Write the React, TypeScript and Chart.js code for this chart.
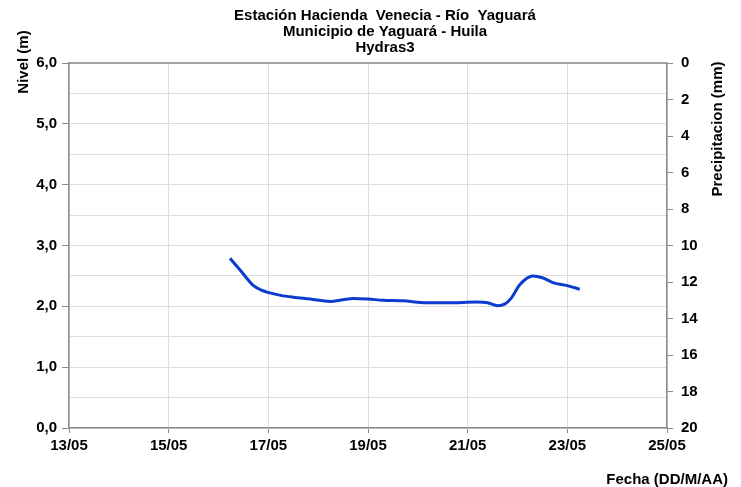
import React, { useEffect, useRef } from "react";
import { Chart, registerables } from "chart.js";

Chart.register(...registerables);

const titleLines = ["Estación Hacienda  Venecia - Río  Yaguará", "Municipio de Yaguará - Huila", "Hydras3"];
const leftTitle = "Nivel (m)";
const rightTitle = "Precipitacion (mm)";
const bottomTitle = "Fecha (DD/M/AA)";

// x = day of May (fractional)
const days = [16.23, 16.45, 16.69, 16.85, 16.99, 17.25, 17.5, 17.84, 18.24, 18.5, 18.7, 19.0, 19.3, 19.7, 20.18, 20.6, 21.19, 21.4, 21.6, 21.75, 21.87, 22.05, 22.31, 22.5, 22.71, 23.0, 23.25];
const nivel = [2.79, 2.58, 2.35, 2.27, 2.23, 2.18, 2.15, 2.12, 2.08, 2.11, 2.13, 2.12, 2.10, 2.09, 2.06, 2.06, 2.07, 2.06, 2.01, 2.04, 2.13, 2.36, 2.50, 2.47, 2.39, 2.34, 2.28];

const xMin = 13, xMax = 25, xStep = 2;
const yMin = 0, yMax = 6, yStep = 0.5;
const y2Min = 0, y2Max = 20, y2Step = 2;

const FONT = "'Liberation Sans', Arial, sans-serif";

export default function App() {
  const ref = useRef<HTMLCanvasElement>(null);
  useEffect(() => {
    const textPlugin = {
      id: "texts",
      afterDraw(chart: any) {
        const ctx = chart.ctx;
        ctx.save();
        ctx.fillStyle = "#000";
        ctx.font = `bold 15px ${FONT}`;
        ctx.textAlign = "center";
        ctx.textBaseline = "middle";
        titleLines.forEach((t, i) => ctx.fillText(t, 385, 16 + i * 16));
        ctx.save();
        ctx.translate(24, 62);
        ctx.rotate(-Math.PI / 2);
        ctx.fillText(leftTitle, 0, 0);
        ctx.restore();
        ctx.save();
        ctx.translate(718, 129);
        ctx.rotate(-Math.PI / 2);
        ctx.fillText(rightTitle, 0, 0);
        ctx.restore();
        ctx.textAlign = "right";
        ctx.fillText(bottomTitle, 728, 480);
        // top border
        const a = chart.chartArea;
        ctx.strokeStyle = "#8c8c8c";
        ctx.lineWidth = 1.5;
        ctx.beginPath();
        ctx.moveTo(a.left, a.top);
        ctx.lineTo(a.right, a.top);
        ctx.stroke();
        ctx.restore();
      },
    };
    const chart = new Chart(ref.current!, {
      type: "line",
      data: {
        datasets: [
          {
            data: days.map((d, i) => ({ x: d, y: nivel[i] })),
            borderColor: "#0c3bd0",
            borderWidth: 3,
            pointRadius: 0,
            tension: 0.4,
            cubicInterpolationMode: "monotone",
            yAxisID: "y",
          },
        ],
      },
      options: {
        animation: false,
        responsive: false,
        layout: { padding: { top: 63, left: 0, right: 0, bottom: 0 } },
        plugins: { legend: { display: false }, title: { display: false }, tooltip: { enabled: false } },
        scales: {
          x: {
            type: "linear",
            min: xMin,
            max: xMax,
            afterFit(s: any) { s.height = 59; },
            ticks: {
              stepSize: xStep,
              color: "#000",
              font: { family: FONT, size: 15, weight: "bold" },
              padding: 4,
              maxRotation: 0,
              callback: (v: any) => String(v).padStart(2, "0") + "/05",
            },
            grid: { color: "#dcdcdc", lineWidth: 1, tickLength: 5, tickColor: "#8c8c8c" },
            border: { color: "#8c8c8c", width: 1.5 },
          },
          y: {
            position: "left",
            min: yMin,
            max: yMax,
            afterFit(s: any) { s.width = 69; },
            ticks: {
              stepSize: yStep,
              color: "#000",
              font: { family: FONT, size: 15, weight: "bold" },
              padding: 5,
              callback: (v: any) => (Number.isInteger(v) ? v.toFixed(1).replace(".", ",") : ""),
            },
            grid: {
              color: "#dcdcdc",
              lineWidth: 1,
              tickLength: 7,
              tickColor: (c: any) => (c.tick && Number.isInteger(c.tick.value) ? "#8c8c8c" : "rgba(0,0,0,0)"),
            },
            border: { color: "#8c8c8c", width: 1.5 },
          },
          y2: {
            position: "right",
            min: y2Min,
            max: y2Max,
            reverse: true,
            afterFit(s: any) { s.width = 74; },
            ticks: {
              stepSize: y2Step,
              color: "#000",
              font: { family: FONT, size: 15, weight: "bold" },
              padding: 8,
            },
            grid: { drawOnChartArea: false, tickLength: 6, tickColor: "#8c8c8c" },
            border: { color: "#8c8c8c", width: 1.5 },
          },
        },
      },
      plugins: [textPlugin],
    } as any);
    return () => chart.destroy();
  }, []);
  return (
    <div style={{ position: "fixed", left: 0, top: 0, width: 741, height: 487, background: "#fff" }}>
      <canvas ref={ref} width={741} height={487} style={{ display: "block", width: 741, height: 487 }} />
    </div>
  );
}
